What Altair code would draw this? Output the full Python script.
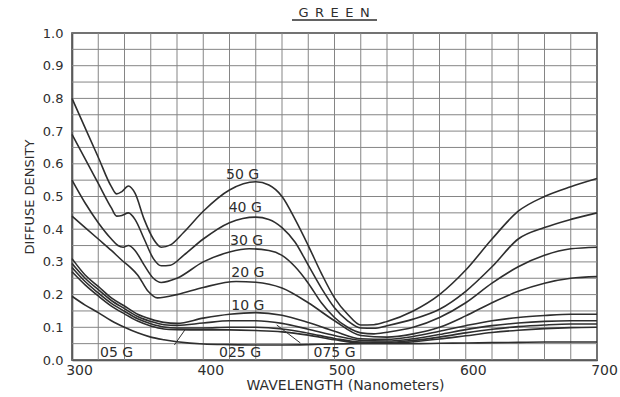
import altair as alt
import pandas as pd

# ---- data ----
g50_wl = [300,310,320,330,334,338,343,348,355,362,368,375,385,400,420,440,450,460,470,480,490,500,510,520,530,540,560,580,600,620,640,660,680,700]
g50 = [0.80,0.71,0.62,0.53,0.508,0.515,0.532,0.51,0.43,0.37,0.345,0.352,0.39,0.455,0.52,0.545,0.535,0.50,0.43,0.35,0.265,0.19,0.14,0.107,0.108,0.118,0.15,0.20,0.275,0.37,0.455,0.50,0.53,0.555]

g40_wl = g50_wl
g40 = [0.69,0.615,0.54,0.465,0.44,0.442,0.45,0.43,0.37,0.31,0.288,0.29,0.32,0.37,0.42,0.437,0.43,0.405,0.36,0.29,0.22,0.16,0.12,0.098,0.097,0.105,0.125,0.155,0.21,0.285,0.37,0.405,0.43,0.45]

g30_wl = [300,310,320,330,335,339,343,348,355,362,368,380,400,420,435,450,460,470,480,490,500,510,520,530,540,560,580,600,620,640,660,680,700]
g30 = [0.55,0.48,0.42,0.37,0.35,0.345,0.35,0.335,0.29,0.25,0.237,0.25,0.30,0.33,0.34,0.335,0.32,0.285,0.235,0.175,0.13,0.10,0.083,0.08,0.085,0.10,0.13,0.175,0.235,0.285,0.32,0.34,0.345]

g20_wl = [300,310,320,330,338,344,350,358,365,380,400,425,440,460,480,500,520,540,560,580,600,620,640,660,680,700]
g20 = [0.44,0.405,0.37,0.335,0.305,0.285,0.26,0.21,0.19,0.20,0.222,0.24,0.238,0.22,0.175,0.12,0.075,0.07,0.08,0.10,0.135,0.175,0.21,0.235,0.25,0.255]

low_wl = [300,310,320,330,340,350,360,370,380,400,420,440,460,480,500,520,540,560,580,600,620,640,660,680,700]
g10 = [0.31,0.26,0.225,0.19,0.165,0.14,0.125,0.115,0.112,0.128,0.14,0.145,0.137,0.115,0.088,0.065,0.063,0.072,0.088,0.105,0.12,0.13,0.136,0.14,0.14]
g075 = [0.295,0.25,0.215,0.182,0.157,0.133,0.118,0.108,0.106,0.113,0.12,0.12,0.112,0.094,0.075,0.06,0.058,0.065,0.078,0.093,0.105,0.113,0.118,0.12,0.12]
g05 = [0.283,0.24,0.205,0.173,0.149,0.126,0.111,0.101,0.098,0.098,0.10,0.10,0.095,0.082,0.066,0.055,0.054,0.06,0.07,0.083,0.094,0.102,0.107,0.11,0.11]
g025 = [0.27,0.23,0.196,0.165,0.141,0.119,0.104,0.095,0.093,0.092,0.092,0.09,0.086,0.076,0.062,0.052,0.051,0.056,0.064,0.074,0.084,0.091,0.096,0.099,0.10]
base = [0.195,0.168,0.145,0.12,0.10,0.083,0.07,0.062,0.056,0.049,0.047,0.046,0.046,0.047,0.049,0.05,0.05,0.05,0.051,0.052,0.053,0.054,0.055,0.055,0.055]

label_text = ["50 G", "40 G", "30 G", "20 G", "10 G", "05 G", "025 G", "075 G"]
label_wl = [430, 432, 433, 434, 434, 334, 428, 500]
label_d = [0.566, 0.465, 0.364, 0.266, 0.165, 0.020, 0.020, 0.020]

leader_wl = [378, 456]
leader_d = [0.046, 0.107]
leader_wl2 = [386, 474]
leader_d2 = [0.092, 0.052]

x_ticks = [300, 400, 500, 600, 700]
y_ticks = [0.0, 0.1, 0.2, 0.3, 0.4, 0.5, 0.6, 0.7, 0.8, 0.9, 1.0]
x_grid = [300 + 20 * i for i in range(21)]
y_grid = [round(0.05 * i, 2) for i in range(21)]

chart_title = "G\u2002R\u2002E\u2002E\u2002N"

# ---- tables ----
series = [("50 G", g50_wl, g50), ("40 G", g40_wl, g40), ("30 G", g30_wl, g30),
          ("20 G", g20_wl, g20), ("10 G", low_wl, g10), ("075 G", low_wl, g075),
          ("05 G", low_wl, g05), ("025 G", low_wl, g025), ("base", low_wl, base)]
rows = []
for name, wl, d in series:
    for w, v in zip(wl, d):
        rows.append({"series": name, "wl": w, "d": v})
df = pd.DataFrame(rows)
labels = pd.DataFrame({"t": label_text, "wl": label_wl, "d": label_d})
leaders = pd.DataFrame({"wl": leader_wl, "d": leader_d, "wl2": leader_wl2, "d2": leader_d2})

FONT = "DejaVu Sans"
INK = "#2e2e2e"
GRID = "#858585"

xscale = alt.Scale(domain=[300, 700], nice=False, zero=False)
yscale = alt.Scale(domain=[0, 1], nice=False)

xaxis = alt.Axis(values=x_ticks, title="WAVELENGTH (Nanometers)", ticks=False,
                 labelFlush=False, labelOverlap=False, grid=False,
                 labelFontSize=14, labelPadding=3, labelOffset=7, titleFontSize=14,
                 titlePadding=1, titleX=273, titleFontWeight="normal")
yaxis = alt.Axis(values=y_ticks, format=".1f", title="DIFFUSE DENSITY", ticks=False,
                 labelFlush=False, labelOverlap=False, grid=False,
                 labelFontSize=13, labelPadding=9, titleFontSize=13, titlePadding=6,
                 titleFontWeight="normal")


def X(field):
    return alt.X(field, scale=xscale, axis=xaxis)


def Y(field):
    return alt.Y(field, scale=yscale, axis=yaxis)


vgrid = alt.Chart(pd.DataFrame({"g": x_grid})).mark_rule(color=GRID, strokeWidth=1).encode(
    x=X("g:Q"))
hgrid = alt.Chart(pd.DataFrame({"g": y_grid})).mark_rule(color=GRID, strokeWidth=1).encode(
    y=Y("g:Q"))

lines = alt.Chart(df).mark_line(color=INK, strokeWidth=1.6, interpolate="monotone").encode(
    x=X("wl:Q"), y=Y("d:Q"), detail="series:N")

texts = alt.Chart(labels).mark_text(font=FONT, fontSize=14, color=INK).encode(
    x=X("wl:Q"), y=Y("d:Q"), text="t:N")

leads = alt.Chart(leaders).mark_rule(color=INK, strokeWidth=1).encode(
    x=X("wl:Q"), y=Y("d:Q"), x2="wl2:Q", y2="d2:Q")

title_mark = alt.Chart(pd.DataFrame({"t": [chart_title]})).mark_text(
    font=FONT, fontSize=13, color=INK, baseline="alphabetic", align="center").encode(
    x=alt.value(262), y=alt.value(-16), text="t:N")

underline = alt.Chart(pd.DataFrame({"a": [0]})).mark_rule(color=INK, strokeWidth=1.3).encode(
    x=alt.value(220), x2=alt.value(305), y=alt.value(-13))

chart = alt.layer(vgrid, hgrid, lines, texts, leads, title_mark, underline).properties(
    width=525, height=327,
    background="white",
    autosize=alt.AutoSizeParams(type="none"),
    padding={"left": 72, "top": 33, "right": 23, "bottom": 37},
).configure_axis(
    domain=True, domainColor=INK, domainWidth=1.5,
    labelFont=FONT, titleFont=FONT, labelColor=INK, titleColor=INK,
).configure_view(stroke=INK, strokeWidth=1.5)

chart.save("out.html", embed_options={"renderer": "svg", "actions": False})
